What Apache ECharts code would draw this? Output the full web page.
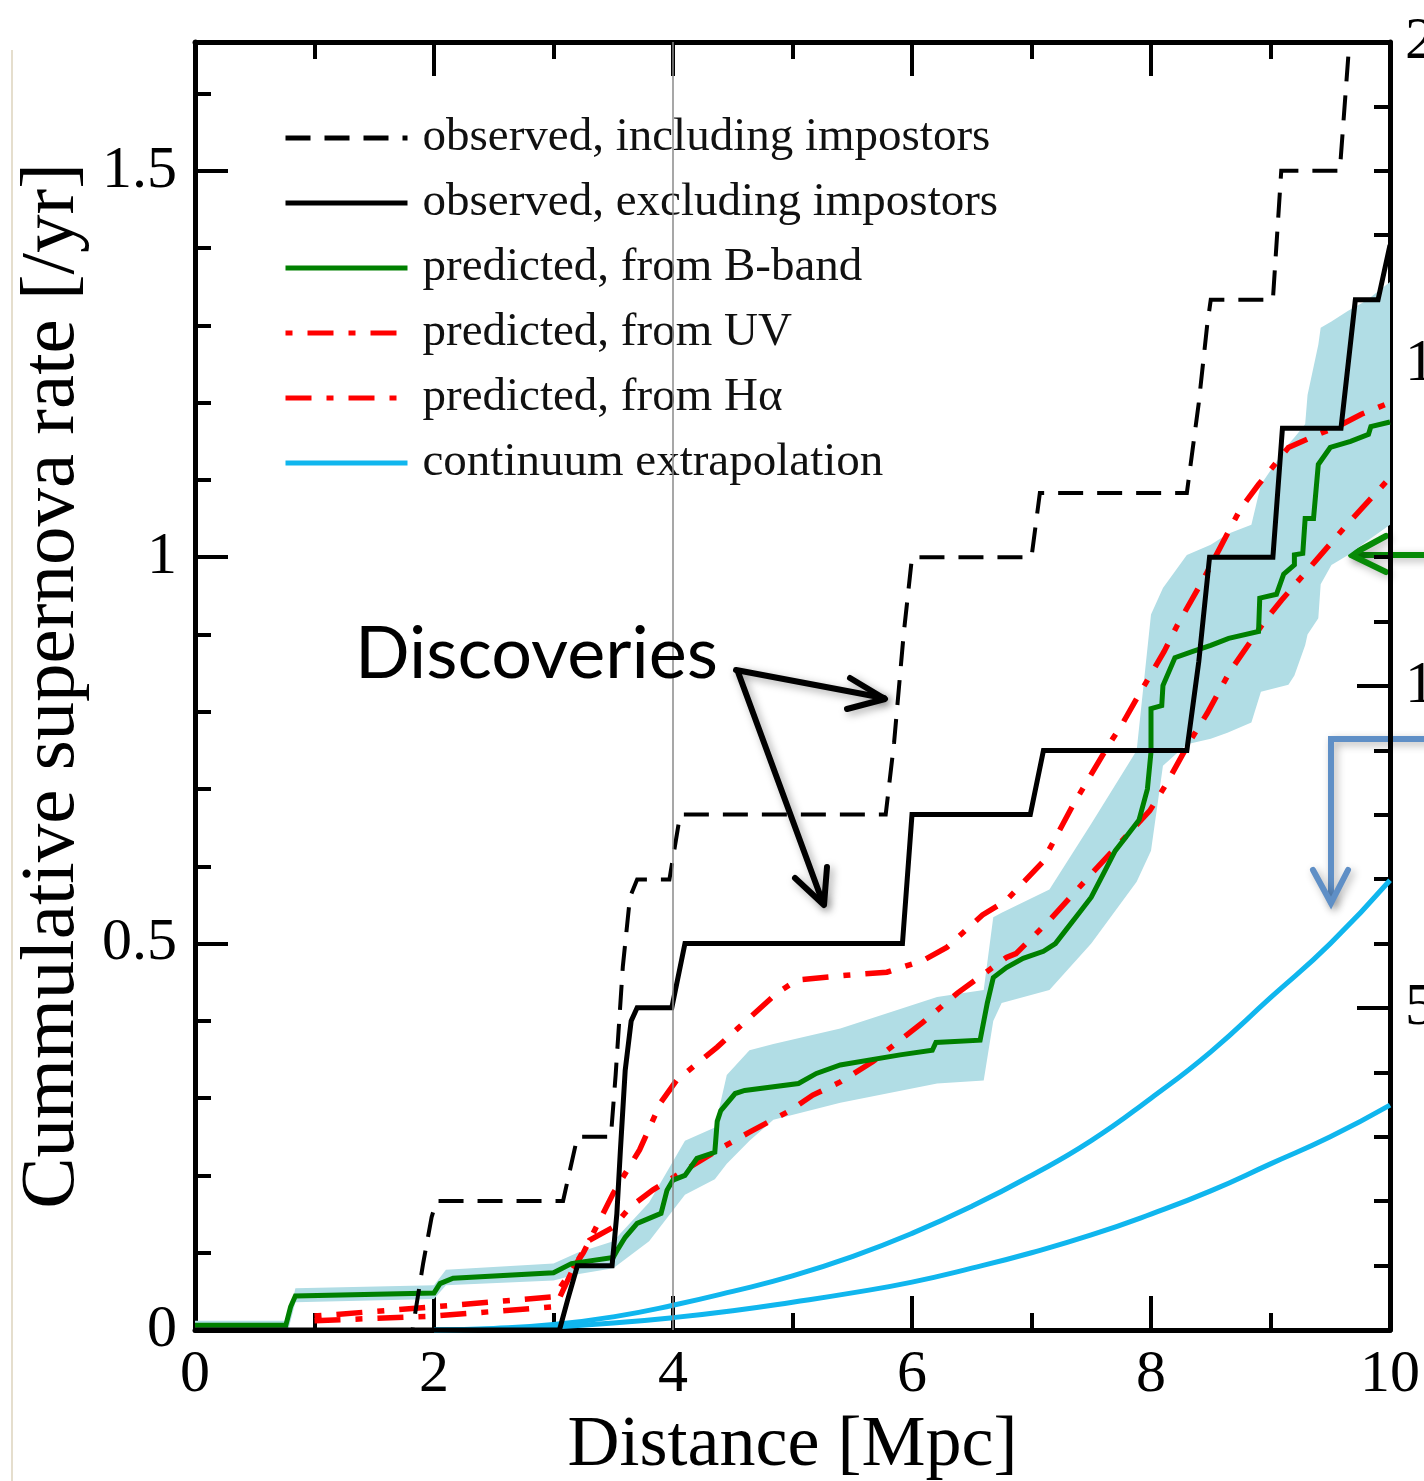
<!DOCTYPE html>
<html>
<head>
<meta charset="utf-8">
<title>Cumulative supernova rate</title>
<script src="https://cdn.jsdelivr.net/npm/echarts@6/dist/echarts.min.js"></script>
<style>
  html, body { margin: 0; padding: 0; background: #fff; }
  #chart { width: 1424px; height: 1481px; }
</style>
</head>
<body>
<div id="chart"></div>
<script>
// ==============================
// data (distance in Mpc, rate in /yr)
// ==============================

// observed, including impostors (dashed black)
const inclX = [0, 1.82, 1.91, 1.98, 2.02, 3.08, 3.20, 3.48, 3.52, 3.58, 3.64, 3.70, 3.97, 4.06, 5.78, 5.85, 5.93, 6.00, 7.00, 7.07, 8.30, 8.40, 8.47, 8.50, 9.02, 9.09, 9.58, 9.70];
const inclY = [0, 0, 0.087, 0.146, 0.167, 0.167, 0.25, 0.25, 0.33, 0.47, 0.56, 0.583, 0.583, 0.667, 0.667, 0.76, 0.90, 1.0, 1.0, 1.083, 1.083, 1.20, 1.30, 1.333, 1.333, 1.5, 1.5, 1.75];

// observed, excluding impostors (solid black)
const exclX = [0, 3.05, 3.12, 3.20, 3.49, 3.53, 3.56, 3.60, 3.65, 3.70, 3.99, 4.10, 5.92, 6.00, 6.99, 7.10, 8.30, 8.40, 8.49, 9.02, 9.10, 9.59, 9.71, 9.90, 10.0];
const exclY = [0, 0, 0.04, 0.083, 0.083, 0.15, 0.233, 0.336, 0.40, 0.417, 0.417, 0.5, 0.5, 0.667, 0.667, 0.75, 0.75, 0.865, 1.0, 1.0, 1.167, 1.167, 1.333, 1.333, 1.404];

// predicted, from B-band (green)
const bbandX = [0, 0.76, 0.80, 0.84, 2.00, 2.05, 2.16, 3.00, 3.15, 3.50, 3.54, 3.60, 3.70, 3.90, 3.95, 4.00, 4.10, 4.20, 4.35, 4.37, 4.40, 4.52, 4.60, 5.05, 5.20, 5.40, 5.90, 6.17, 6.20, 6.57, 6.63, 6.68, 6.79, 6.93, 7.10, 7.20, 7.30, 7.40, 7.50, 7.60, 7.70, 7.80, 7.90, 7.97, 8.00, 8.00, 8.09, 8.10, 8.20, 8.35, 8.50, 8.65, 8.90, 8.91, 9.05, 9.11, 9.20, 9.20, 9.27, 9.29, 9.36, 9.40, 9.50, 9.67, 9.82, 9.84, 10.0];
const bbandY = [0.006, 0.006, 0.03, 0.044, 0.048, 0.06, 0.067, 0.074, 0.086, 0.094, 0.105, 0.12, 0.138, 0.151, 0.181, 0.194, 0.20, 0.222, 0.23, 0.27, 0.284, 0.306, 0.31, 0.319, 0.332, 0.343, 0.356, 0.362, 0.372, 0.375, 0.423, 0.456, 0.469, 0.481, 0.49, 0.50, 0.52, 0.54, 0.56, 0.59, 0.62, 0.64, 0.66, 0.70, 0.748, 0.804, 0.808, 0.834, 0.87, 0.878, 0.886, 0.895, 0.904, 0.947, 0.952, 0.978, 0.99, 1.003, 1.005, 1.05, 1.05, 1.12, 1.142, 1.15, 1.159, 1.169, 1.175];

// uncertainty band around the B-band prediction
const bandX  = [0, 0.78, 0.84, 2.0, 2.1, 3.0, 3.2, 3.5, 3.8, 4.1, 4.35, 4.45, 4.64, 4.84, 5.4, 6.21, 6.6, 6.68, 6.75, 7.15, 7.5, 7.88, 8.0, 8.1, 8.3, 8.5, 8.64, 8.84, 8.92, 9.15, 9.2, 9.29, 9.31, 9.4, 9.42, 9.51, 9.65, 9.8, 10];
const bandHi = [0.012, 0.012, 0.054, 0.058, 0.078, 0.086, 0.10, 0.115, 0.165, 0.245, 0.262, 0.33, 0.362, 0.37, 0.39, 0.431, 0.44, 0.534, 0.54, 0.57, 0.655, 0.75, 0.926, 0.96, 1.003, 1.016, 1.03, 1.042, 1.094, 1.146, 1.155, 1.172, 1.21, 1.275, 1.297, 1.305, 1.319, 1.332, 1.356];
const bandLo = [0, 0, 0.036, 0.040, 0.058, 0.064, 0.072, 0.080, 0.115, 0.175, 0.195, 0.215, 0.245, 0.272, 0.294, 0.319, 0.323, 0.40, 0.423, 0.44, 0.50, 0.58, 0.62, 0.73, 0.758, 0.765, 0.773, 0.786, 0.826, 0.835, 0.847, 0.886, 0.90, 0.921, 0.965, 0.99, 1.003, 1.02, 1.042];

// predicted, from UV (red dash-dot, upper)
const uvX = [1.0, 2.0, 3.0, 3.1, 3.25, 3.5, 3.72, 3.9, 4.03, 4.37, 4.54, 4.87, 5.04, 5.45, 5.79, 6.09, 6.29, 6.59, 6.79, 7.09, 7.35, 7.63, 7.77, 7.88, 8.11, 8.22, 8.44, 8.53, 8.75, 8.90, 9.15, 9.40, 9.56, 9.76, 10];
const uvY = [0.018, 0.03, 0.043, 0.065, 0.10, 0.177, 0.233, 0.295, 0.323, 0.366, 0.39, 0.436, 0.453, 0.459, 0.463, 0.478, 0.495, 0.537, 0.556, 0.605, 0.68, 0.753, 0.787, 0.817, 0.878, 0.912, 0.972, 0.998, 1.063, 1.094, 1.142, 1.159, 1.169, 1.185, 1.2];

// predicted, from H-alpha (red dash-dot, lower)
const haX = [1.0, 2.0, 3.0, 3.03, 3.16, 3.3, 3.5, 3.64, 3.83, 4.06, 4.42, 4.64, 4.98, 5.17, 5.4, 5.67, 5.9, 6.09, 6.38, 6.79, 6.87, 7.15, 7.5, 7.99, 8.13, 8.33, 8.47, 8.66, 8.95, 9.09, 9.37, 9.65, 10];
const haY = [0.012, 0.018, 0.03, 0.035, 0.078, 0.116, 0.133, 0.159, 0.181, 0.203, 0.237, 0.256, 0.284, 0.304, 0.321, 0.347, 0.375, 0.398, 0.436, 0.482, 0.487, 0.53, 0.59, 0.672, 0.707, 0.763, 0.798, 0.852, 0.917, 0.944, 0.994, 1.044, 1.103];

// continuum extrapolation (two light blue curves)
const contX   = [2.0, 2.5, 3.0, 3.5, 4.0, 4.5, 5.0, 5.5, 6.0, 6.5, 7.0, 7.5, 8.0, 8.5, 9.0, 9.5, 10.0];
const contHiY = [0, 0.002, 0.007, 0.017, 0.032, 0.05, 0.07, 0.095, 0.125, 0.16, 0.20, 0.245, 0.30, 0.36, 0.43, 0.50, 0.582];
const contLoY = [0, 0.001, 0.004, 0.009, 0.016, 0.025, 0.036, 0.048, 0.062, 0.08, 0.10, 0.123, 0.15, 0.18, 0.215, 0.25, 0.291];

const legendNames = [
  'observed, including impostors',
  'observed, excluding impostors',
  'predicted, from B-band',
  'predicted, from UV',
  'predicted, from Hα',
  'continuum extrapolation'
];

const xTicks = [0, 2, 4, 6, 8, 10];
const yMax = 5 / 3;       // top of the left axis
const rightMax = 20;      // same height on the right axis (12 x rate)

// ==============================
// helpers
// ==============================

const zip = (xs, ys) => xs.map((x, i) => [x, ys[i]]);
const serif = "'Liberation Serif', 'Times New Roman', serif";
const bandData = bandX.map((x, i) => [x, bandLo[i], bandHi[i]]);

function lineSeries(name, xs, ys, color, width, type, extra) {
  return Object.assign({
    name: name,
    type: 'line',
    data: zip(xs, ys),
    symbol: 'none',
    clip: true,
    silent: true,
    lineStyle: { color: color, width: width, type: type, cap: 'butt', join: 'miter' },
    itemStyle: { color: color },
    z: 3
  }, extra || {});
}

const frameLine = { show: true, onZero: false, lineStyle: { color: '#000', width: 5 } };
const hideLabel = { show: false };

// ==============================
// chart
// ==============================

const chart = echarts.init(document.getElementById('chart'));

chart.setOption({
  animation: false,
  backgroundColor: '#fff',
  grid: { left: 195, right: 34, top: 42, bottom: 151, containLabel: false, outerBoundsMode: 'none' },
  legend: {
    data: legendNames,
    orient: 'vertical',
    left: 283,
    top: 114,
    padding: 0,
    itemWidth: 122,
    itemHeight: 14,
    itemGap: 17,
    selectedMode: false,
    itemStyle: { opacity: 0 },
    lineStyle: { width: 5 },
    textStyle: {
      fontFamily: serif,
      fontSize: 47,
      lineHeight: 48,
      color: '#111',
      padding: [0, 0, 0, 10]
    }
  },
  xAxis: [
    {
      type: 'value', position: 'bottom', min: 0, max: 10, interval: 2,
      name: 'Distance [Mpc]', nameLocation: 'middle', nameGap: 75,
      nameTextStyle: { fontFamily: serif, fontSize: 72, color: '#000' },
      axisLine: frameLine,
      axisTick: { show: true, inside: true, length: 34, lineStyle: { color: '#000', width: 4 } },
      minorTick: { show: true, splitNumber: 2, length: 17, lineStyle: { color: '#000', width: 4 } },
      axisLabel: { margin: 15, fontFamily: serif, fontSize: 60, color: '#000',
        formatter: v => (xTicks.indexOf(v) >= 0 ? String(v) : '') },
      splitLine: { show: false }
    },
    {
      type: 'value', position: 'top', min: 0, max: 10, interval: 2,
      axisLine: frameLine,
      axisTick: { show: true, inside: true, length: 34, lineStyle: { color: '#000', width: 4 } },
      minorTick: { show: true, splitNumber: 2, length: 17, lineStyle: { color: '#000', width: 4 } },
      axisLabel: hideLabel,
      splitLine: { show: false }
    }
  ],
  yAxis: [
    {
      type: 'value', position: 'left', min: 0, max: yMax, interval: 0.5,
      name: 'Cummulative supernova rate [/yr]', nameLocation: 'middle', nameGap: 104,
      nameTextStyle: { fontFamily: serif, fontSize: 77, color: '#000' },
      axisLine: frameLine,
      axisTick: { show: true, inside: true, length: 33, lineStyle: { color: '#000', width: 4 } },
      axisLabel: { margin: 18, fontFamily: serif, fontSize: 60, color: '#000',
        formatter: v => (v > 1.6 ? '' : String(Math.round(v * 10) / 10)) },
      splitLine: { show: false }
    },
    {
      type: 'value', position: 'left', min: 0, max: yMax, interval: 0.1,
      axisLine: { show: false },
      axisTick: { show: true, inside: true, length: 16, lineStyle: { color: '#000', width: 4 } },
      axisLabel: hideLabel,
      splitLine: { show: false }
    },
    {
      type: 'value', position: 'right', min: 0, max: rightMax, interval: 5,
      axisLine: frameLine,
      axisTick: { show: true, inside: true, length: 33, lineStyle: { color: '#000', width: 4 } },
      minorTick: { show: true, splitNumber: 5, length: 16, lineStyle: { color: '#000', width: 4 } },
      axisLabel: { margin: 15, fontFamily: serif, fontSize: 60, color: '#000', showMinLabel: false },
      splitLine: { show: false }
    }
  ],
  series: [
    {
      type: 'custom',
      name: 'band',
      silent: true,
      z: 1,
      data: bandData,
      encode: { x: 0, y: [1, 2] },
      renderItem: function (params, api) {
        if (params.dataIndex !== 0) return;
        const upper = bandData.map(d => api.coord([d[0], d[2]]));
        const lower = bandData.map(d => api.coord([d[0], d[1]])).reverse();
        return {
          type: 'polygon',
          shape: { points: upper.concat(lower) },
          style: { fill: '#b1dde5' }
        };
      }
    },
    lineSeries(legendNames[5], contX, contHiY, '#10b6ee', 5, 'solid', { smooth: 0.5 }),
    lineSeries(legendNames[5], contX, contLoY, '#10b6ee', 5, 'solid', { smooth: 0.5 }),
    lineSeries(legendNames[4], haX, haY, '#ff0000', 5.5, [26, 15, 7, 15]),
    lineSeries(legendNames[3], uvX, uvY, '#ff0000', 5.5, [7, 15, 26, 15]),
    lineSeries(legendNames[2], bbandX, bbandY, '#008000', 5, 'solid'),
    lineSeries(legendNames[0], inclX, inclY, '#000', 4, [25, 14]),
    lineSeries(legendNames[1], exclX, exclY, '#000', 5, 'solid', {
      markLine: {
        silent: true,
        symbol: 'none',
        label: { show: false },
        lineStyle: { color: '#8a8a8a', width: 1.5, type: 'solid' },
        data: [{ xAxis: 4 }]
      }
    })
  ],
  graphic: [
    // faint page edge on the left
    { type: 'line', shape: { x1: 12, y1: 50, x2: 12, y2: 1481 }, style: { stroke: '#ddd3bd', lineWidth: 1.5 }, silent: true },
    // "Discoveries" annotation
    {
      type: 'text', x: 355, y: 655, silent: true, z: 20,
      style: { text: 'Discoveries', font: '72px Lato, "Open Sans", sans-serif', fill: '#000', textVerticalAlign: 'middle' }
    },
    {
      type: 'group', silent: true, z: 20,
      children: [
        { type: 'polyline', shape: { points: [[736, 670], [884, 698]] } },
        { type: 'polyline', shape: { points: [[850, 678], [885, 699], [847, 709]] } },
        { type: 'polyline', shape: { points: [[738, 672], [823, 903]] } },
        { type: 'polyline', shape: { points: [[795, 878], [824, 905], [827, 867]] } }
      ].map(el => Object.assign(el, {
        style: { stroke: '#000', lineWidth: 6, lineCap: 'round', lineJoin: 'round', fill: null,
          shadowBlur: 8, shadowColor: 'rgba(0,0,0,0.35)', shadowOffsetX: 3, shadowOffsetY: 3 }
      }))
    },
    // green arrow pointing at the B-band prediction
    {
      type: 'group', silent: true, z: 20,
      children: [
        { type: 'polyline', shape: { points: [[1430, 555], [1352, 555]] } },
        { type: 'polyline', shape: { points: [[1386, 536], [1351, 555], [1386, 572]] } }
      ].map(el => Object.assign(el, {
        style: { stroke: '#078a07', lineWidth: 6, lineCap: 'round', lineJoin: 'round', fill: null,
          shadowBlur: 8, shadowColor: 'rgba(0,0,0,0.3)', shadowOffsetX: 3, shadowOffsetY: 3 }
      }))
    },
    // blue elbow arrow pointing at the continuum curves
    {
      type: 'group', silent: true, z: 20,
      children: [
        { type: 'polyline', shape: { points: [[1430, 739], [1331, 739], [1331, 902]] } },
        { type: 'polyline', shape: { points: [[1313, 870], [1331, 903], [1348, 870]] } }
      ].map(el => Object.assign(el, {
        style: { stroke: '#5f8fc6', lineWidth: 6, lineCap: 'round', lineJoin: 'miter', fill: null,
          shadowBlur: 8, shadowColor: 'rgba(0,0,0,0.3)', shadowOffsetX: 3, shadowOffsetY: 3 }
      }))
    }
  ]
});

window.addEventListener('resize', () => chart.resize());
</script>
</body>
</html>
